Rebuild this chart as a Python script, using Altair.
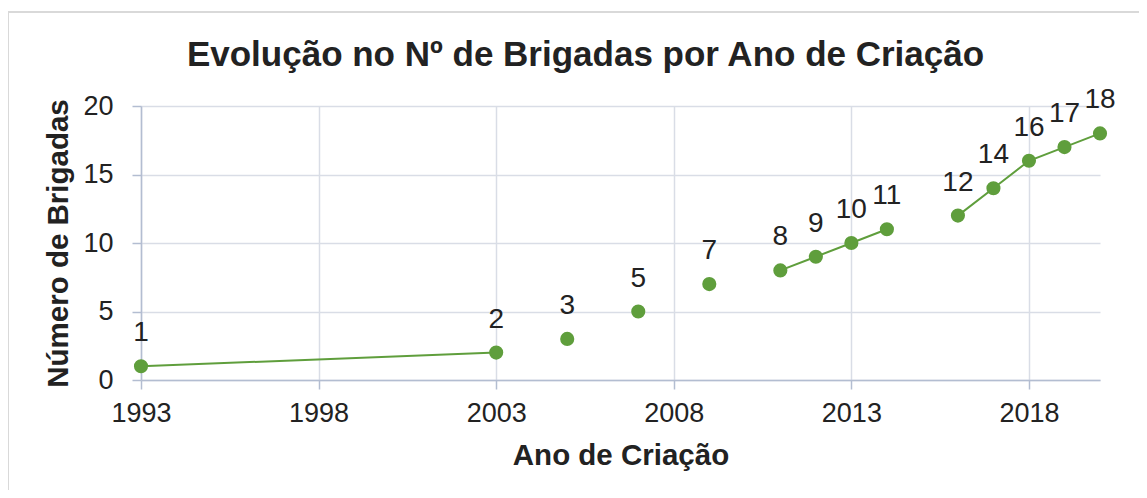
import altair as alt
import pandas as pd

years = [1993, 2003, 2005, 2007, 2009, 2011, 2012, 2013, 2014, 2016, 2017, 2018, 2019, 2020]
brigadas = [1, 2, 3, 5, 7, 8, 9, 10, 11, 12, 14, 16, 17, 18]
segment = [0, 0, 1, 2, 3, 4, 4, 4, 4, 5, 5, 5, 5, 5]
x_ticks = [1993, 1998, 2003, 2008, 2013, 2018]
y_ticks = [0, 5, 10, 15, 20]

df = pd.DataFrame({"ano": years, "n": brigadas, "seg": segment})

GREEN = "#5f9e3c"
FONT = "Liberation Sans"
TXT = "#222222"

x = alt.X("ano:Q", scale=alt.Scale(domain=[1993, 2020], nice=False, zero=False),
          axis=alt.Axis(values=x_ticks, format="d", title="Ano de Criação",
                        titleFontSize=29.5, titleFontWeight="bold", titleColor=TXT,
                        titlePadding=15, labelFontSize=27, labelColor=TXT,
                        labelPadding=11, tickSize=9, labelFont=FONT, titleFont=FONT,
                        labelFlush=False, labelOverlap=False))
y = alt.Y("n:Q", scale=alt.Scale(domain=[0, 20], nice=False),
          axis=alt.Axis(values=y_ticks, title="Número de Brigadas",
                        titleFontSize=29.5, titleFontWeight="bold", titleColor=TXT,
                        titlePadding=9, labelFontSize=27, labelColor=TXT,
                        labelPadding=19, tickSize=9, labelFont=FONT, titleFont=FONT,
                        labelFlush=False, labelOverlap=False))

frame = alt.Chart(df).mark_rect(fill="transparent", stroke="#d9d9d9", strokeWidth=1.5).encode(
    x=alt.value(-133), x2=alt.value(1100), y=alt.value(-94), y2=alt.value(500)
)

line = alt.Chart(df).mark_line(color=GREEN, strokeWidth=2).encode(x=x, y=y, detail="seg:N")
pts = alt.Chart(df).mark_circle(color=GREEN, opacity=1, size=200).encode(x=x, y=y)
labels = alt.Chart(df).mark_text(fontSize=28, font=FONT, color=TXT, dy=-25,
                                 baseline="alphabetic", align="center").encode(
    x=x, y=y, text="n:Q")

chart = alt.layer(frame, line, pts, labels).properties(
    width=959, height=274,
    autosize=alt.AutoSizeParams(type="none"),
    padding={"left": 133, "top": 98, "right": 39, "bottom": 110},
    title=alt.TitleParams("Evolução no Nº de Brigadas por Ano de Criação",
                          fontSize=35, font=FONT, fontWeight="bold", color=TXT,
                          anchor="middle", frame="group", dx=-35, offset=-90,
                          baseline="alphabetic"),
).configure_axis(
    gridColor="#d9dde6", gridWidth=1.5, domainColor="#b3bdd1", domainWidth=1.5,
    tickColor="#b3bdd1", tickWidth=1.5,
).configure_view(stroke=None)

chart.save("out.html", embed_options={"renderer": "svg", "actions": False})
